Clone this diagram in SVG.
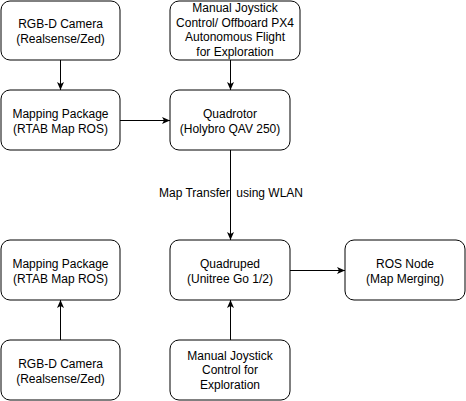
<svg xmlns="http://www.w3.org/2000/svg" width="466" height="401" viewBox="0 0 466 401">
<defs>
<style>
.box{fill:#fff;stroke:#000;stroke-width:1}
.lbl{font-family:"Liberation Sans",Arial,Helvetica,sans-serif;font-size:12px;fill:#000;text-anchor:middle}
.edge{fill:none;stroke:#000;stroke-width:1}
</style>
<marker id="arr" viewBox="0 0 8 8" refX="8" refY="4" markerWidth="8" markerHeight="8" markerUnits="userSpaceOnUse" orient="auto">
<path d="M0,0.5 L8,4 L0,7.5 L2,4 Z" fill="#000"/>
</marker>
</defs>
<rect width="466" height="401" fill="#fff"/>
<g id="connectors">
<line class="edge" x1="60.5" y1="60" x2="60.5" y2="90" marker-end="url(#arr)"/>
<line class="edge" x1="230.5" y1="60" x2="230.5" y2="90" marker-end="url(#arr)"/>
<line class="edge" x1="120" y1="120.5" x2="170" y2="120.5" marker-end="url(#arr)"/>
<line class="edge" x1="230.5" y1="150" x2="230.5" y2="240" marker-end="url(#arr)"/>
<text class="lbl" x="231" y="197" xml:space="preserve">Map Transfer  using WLAN</text>
<line class="edge" x1="290" y1="270.5" x2="345" y2="270.5" marker-end="url(#arr)"/>
<line class="edge" x1="60.5" y1="340" x2="60.5" y2="300" marker-end="url(#arr)"/>
<line class="edge" x1="230.5" y1="340" x2="230.5" y2="300" marker-end="url(#arr)"/>
</g>
<g id="camera1">
<rect class="box" x="1" y="1" width="119" height="59" rx="9"/>
<text class="lbl" x="60.5" y="28.4">RGB-D Camera</text>
<text class="lbl" x="60.5" y="42.8">(Realsense/Zed)</text>
</g>
<g id="joystick1">
<rect class="box" x="170" y="1" width="130" height="59" rx="9"/>
<text class="lbl" x="235" y="12.3">Manual Joystick</text>
<text class="lbl" x="235" y="26.7">Control/ Offboard PX4</text>
<text class="lbl" x="235" y="41.1">Autonomous Flight</text>
<text class="lbl" x="235" y="55.5">for Exploration</text>
</g>
<g id="mapping1">
<rect class="box" x="1" y="90" width="119" height="60" rx="9"/>
<text class="lbl" x="60.5" y="118.4">Mapping Package</text>
<text class="lbl" x="60.5" y="132.8">(RTAB Map ROS)</text>
</g>
<g id="quadrotor">
<rect class="box" x="170" y="90" width="120" height="60" rx="9"/>
<text class="lbl" x="230" y="118.4">Quadrotor</text>
<text class="lbl" x="230" y="132.8">(Holybro QAV 250)</text>
</g>
<g id="mapping2">
<rect class="box" x="1" y="240" width="119" height="60" rx="9"/>
<text class="lbl" x="60.5" y="268.4">Mapping Package</text>
<text class="lbl" x="60.5" y="282.8">(RTAB Map ROS)</text>
</g>
<g id="quadruped">
<rect class="box" x="170" y="240" width="120" height="60" rx="9"/>
<text class="lbl" x="230" y="268.4">Quadruped</text>
<text class="lbl" x="230" y="282.8">(Unitree Go 1/2)</text>
</g>
<g id="rosnode">
<rect class="box" x="345" y="240" width="120" height="60" rx="9"/>
<text class="lbl" x="405" y="268.4">ROS Node</text>
<text class="lbl" x="405" y="282.8">(Map Merging)</text>
</g>
<g id="camera2">
<rect class="box" x="1" y="340" width="119" height="60" rx="9"/>
<text class="lbl" x="60.5" y="368.4">RGB-D Camera</text>
<text class="lbl" x="60.5" y="382.8">(Realsense/Zed)</text>
</g>
<g id="joystick2">
<rect class="box" x="170" y="340" width="120" height="60" rx="9"/>
<text class="lbl" x="230" y="360">Manual Joystick</text>
<text class="lbl" x="230" y="374.4">Control for</text>
<text class="lbl" x="230" y="388.8">Exploration</text>
</g>
</svg>
